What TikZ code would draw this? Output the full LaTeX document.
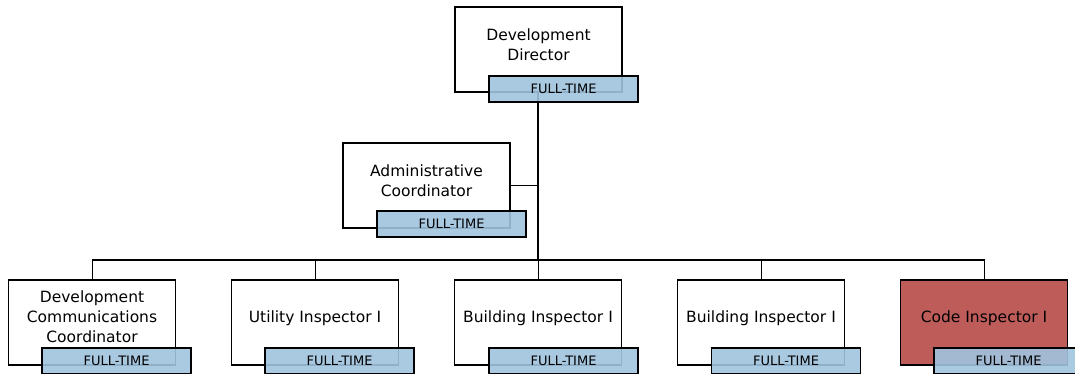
\documentclass[tikz,border=0pt]{standalone}
\usepackage{fontspec}
\setmainfont{DejaVu Sans}
\usepackage{tikz}

\definecolor{tagblue}{RGB}{160,196,222}
\definecolor{vacantred}{RGB}{190,92,90}

\tikzset{
    posbox/.style={draw, line width=1.3pt, fill=white, minimum width=167pt, minimum height=85pt, inner sep=0pt},
    postext/.style={align=center, font=\fontsize{15.5}{20}\selectfont},
    timetag/.style={draw, line width=1.3pt, fill=tagblue, fill opacity=0.9, text opacity=1, minimum width=149pt, minimum height=26pt, inner sep=0pt, font=\fontsize{13}{15}\selectfont},
    trunk/.style={line width=2pt},
    drop/.style={line width=1pt}
}

\begin{document}
\begin{tikzpicture}[x=1pt, y=-1pt]
            \useasboundingbox (0, 0) rectangle (1075, 374);
            % lines first, boxes on top
            \coordinate (busleft) at (92, 260);
            \coordinate (busright) at (985, 260);
            \coordinate (busmid) at (538, 260);
            \draw[trunk] (538, 92) -- (busmid);
            \draw[trunk] (busleft) -- (busright);
            \draw[drop] (510, 185.5) -- (538, 185.5);
            \foreach \cx in {92, 315, 538, 761, 984}
                \draw[drop] (\cx, 260) -- (\cx, 280);

            % director
            \node[posbox] (dir) at (538.5, 49.5) {};
            \node[postext] (dirtext) at ([yshift=5pt]dir.center) {Development\\Director};
            \node[timetag] (dirtag) at (563.5, 89) {FULL-TIME};

            % admin
            \node[posbox] (admin) at (426.5, 185.5) {};
            \node[postext] (admintext) at ([yshift=5pt]admin.center) {Administrative\\Coordinator};
            \node[timetag] (admintag) at (451.5, 224) {FULL-TIME};

            % bottom row
            \node[posbox] (dcc) at (92, 322.5) {};
            \node[postext] (dcctext) at ([yshift=6pt]dcc.center) {Development\\Communications\\Coordinator};
            \node[timetag] (dcctag) at (116.5, 361) {FULL-TIME};

            \node[posbox] (util) at (315, 322.5) {};
            \node[postext] (utiltext) at ([yshift=4pt]util.center) {Utility Inspector I};
            \node[timetag] (utiltag) at (339.5, 361) {FULL-TIME};

            \node[posbox] (bldga) at (538, 322.5) {};
            \node[postext] (bldgatext) at ([yshift=4pt]bldga.center) {Building Inspector I};
            \node[timetag] (bldgatag) at (563.5, 361) {FULL-TIME};

            \node[posbox] (bldgb) at (761, 322.5) {};
            \node[postext] (bldgbtext) at ([yshift=4pt]bldgb.center) {Building Inspector I};
            \node[timetag] (bldgbtag) at (786, 361) {FULL-TIME};

            \node[posbox, fill=vacantred] (code) at (984, 322.5) {};
            \node[postext] (codetext) at ([yshift=4pt]code.center) {Code Inspector I};
            \node[timetag] (codetag) at (1008.5, 361) {FULL-TIME};
        \end{tikzpicture}
\end{document}
